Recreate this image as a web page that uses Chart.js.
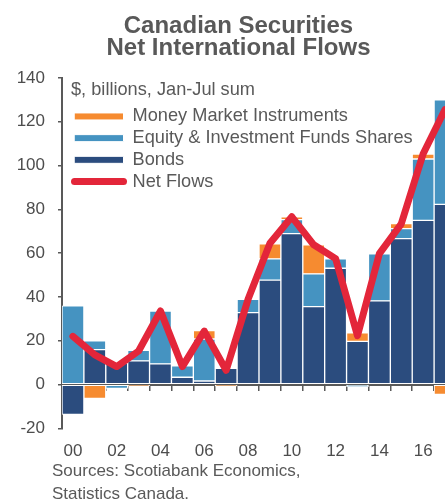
<!DOCTYPE html>
<html>
<head>
<meta charset="utf-8">
<script src="https://cdn.jsdelivr.net/npm/chart.js@4.4.1/dist/chart.umd.min.js"></script>
<style>
  html, body { margin: 0; padding: 0; background: #fff; }
  body { width: 445px; height: 499px; overflow: hidden; position: relative; font-family: 'Liberation Sans', Arial, sans-serif; }
  #wrap { position: absolute; left: 0; top: 0; width: 462px; height: 499px; }
  #title { position: absolute; left: 0; top: 14px; width: 477px; text-align: center; font-weight: bold; font-size: 24px; line-height: 22px; color: #595959; }
  #source { position: absolute; left: 52px; top: 459px; font-size: 17px; line-height: 23px; color: #595959; white-space: nowrap; }
</style>
</head>
<body>
<div id="wrap"><canvas id="flowsChart"></canvas></div>
<div id="title">Canadian Securities<br>Net International Flows</div>
<div id="source">Sources: Scotiabank Economics,<br>Statistics Canada.</div>
<script>
// years on the x axis, Jan-Jul sums
const years = ['00', '01', '02', '03', '04', '05', '06', '07', '08',
               '09', '10', '11', '12', '13', '14', '15', '16', '17'];

// $ billions, by instrument
const bonds       = [-13.7, 15.9, 9.8, 10.8, 9.4, 3.3, 1.6, 7.4, 32.8, 47.7, 68.9, 35.6, 53.1, 19.7, 38.2, 66.6, 75.0, 82.3];
const equity      = [35.9, 4.1, -1.8, 4.8, 24.1, 5.2, 19.2, 0, 6.1, 9.7, 6.4, 14.9, 4.3, -1.0, 21.5, 4.6, 28.0, 47.7];
const moneyMarket = [0, -6.4, 0, -0.6, 0, 0, 3.8, -0.8, 0, 6.9, 1.3, 13.3, 0, 3.9, 0, 2.3, 2.3, -4.5];
const netFlows    = [22.0, 13.5, 8.2, 15.3, 33.6, 8.2, 24.4, 6.5, 38.9, 64.5, 76.6, 63.8, 57.5, 22.3, 59.8, 73.4, 105.4, 125.6];

// y axis ticks
const yMin = -20, yMax = 140, yStep = 20;

const grey = '#595959';
const tickGrey = '#4d4d4d';
Chart.defaults.font.family = "'Liberation Sans', Arial, sans-serif";

// legend lists money market, equity, bonds, then the line
const legendOrder = [2, 1, 0, 3];

// legend sits inside the plot, a bit in from the y axis
const nudgeLegend = {
  id: 'nudgeLegend',
  afterLayout(chart) {
    const lg = chart.legend, area = chart.chartArea;
    if (!lg) return;
    lg.left = area.left + 9; lg.right = lg.left + lg.width;
    lg.top = area.top; lg.bottom = lg.top + lg.height;
  }
};

const flowsChart = new Chart('flowsChart', {
  type: 'bar',
  data: {
    labels: years,
    datasets: [
      { label: 'Bonds', data: bonds, backgroundColor: '#2B4C7E', stack: 'flows', order: 1 },
      { label: 'Equity & Investment Funds Shares', data: equity, backgroundColor: '#4593C1', stack: 'flows', order: 1 },
      { label: 'Money Market Instruments', data: moneyMarket, backgroundColor: '#F68B30', stack: 'flows', order: 1 },
      { type: 'line', label: 'Net Flows', data: netFlows, borderColor: '#E3263A', backgroundColor: '#E3263A',
        borderWidth: 7, pointRadius: 0, tension: 0, borderJoinStyle: 'round', borderCapStyle: 'round',
        stack: 'net', order: 0 }
    ]
  },
  options: {
    responsive: true,
    maintainAspectRatio: false,
    animation: false,
    layout: { padding: { left: 16, right: 6, top: 78, bottom: 26.7 } },
    datasets: {
      bar: { barPercentage: 1, categoryPercentage: 1, borderColor: '#fff', borderWidth: 1, borderSkipped: false }
    },
    plugins: {
      tooltip: { enabled: false },
      legend: {
        position: 'chartArea',
        align: 'start',
        title: { display: true, text: '$, billions, Jan-Jul sum', position: 'start', color: grey,
                 font: { size: 18.2 }, padding: { top: 3, bottom: 1 } },
        labels: {
          usePointStyle: true, pointStyleWidth: 49, boxHeight: 7, padding: 3.5,
          color: grey, font: { size: 18.2 },
          generateLabels: chart => legendOrder.map(i => {
            const ds = chart.data.datasets[i];
            const isLine = ds.type === 'line';
            return {
              text: ds.label, datasetIndex: i, hidden: false,
              fillStyle: ds.backgroundColor,
              strokeStyle: isLine ? ds.borderColor : '#fff',
              lineWidth: isLine ? 7 : 1,
              lineCap: 'round',
              pointStyle: isLine ? 'line' : 'rect',
              fontColor: grey
            };
          })
        }
      }
    },
    scales: {
      x: {
        stacked: true, offset: true,
        grid: { display: false, drawTicks: false }, border: { display: false },
        ticks: { autoSkip: false, maxRotation: 0, padding: 12.5, color: tickGrey, font: { size: 17 },
                 callback: (v, i) => i % 2 === 0 ? years[i] : '' },
        // fixed band for the year labels, no side padding
        afterFit: s => { s.height = 44; s.paddingLeft = 0; s.paddingRight = 0; }
      },
      // zero line with tick marks between the bars
      zeroLine: {
        type: 'category', axis: 'x', position: { y: 0 }, offset: true, z: 1,
        grid: { display: true, offset: true, drawOnChartArea: false, drawTicks: true, tickLength: 5, color: grey, lineWidth: 1.5 },
        border: { display: true, color: grey, width: 2 },
        ticks: { display: false },
        afterFit: s => { s.height = 0; s.paddingLeft = 0; s.paddingRight = 0; }
      },
      y: {
        stacked: true, position: 'left', min: yMin, max: yMax,
        ticks: { stepSize: yStep, padding: 13, color: tickGrey, font: { size: 17 } },
        grid: { drawOnChartArea: false, drawTicks: true, tickLength: 4, color: grey, lineWidth: 1.5 },
        border: { color: grey, width: 2 },
        afterFit: s => { s.width = 46; }
      }
    }
  },
  plugins: [nudgeLegend]
});
</script>
</body>
</html>
